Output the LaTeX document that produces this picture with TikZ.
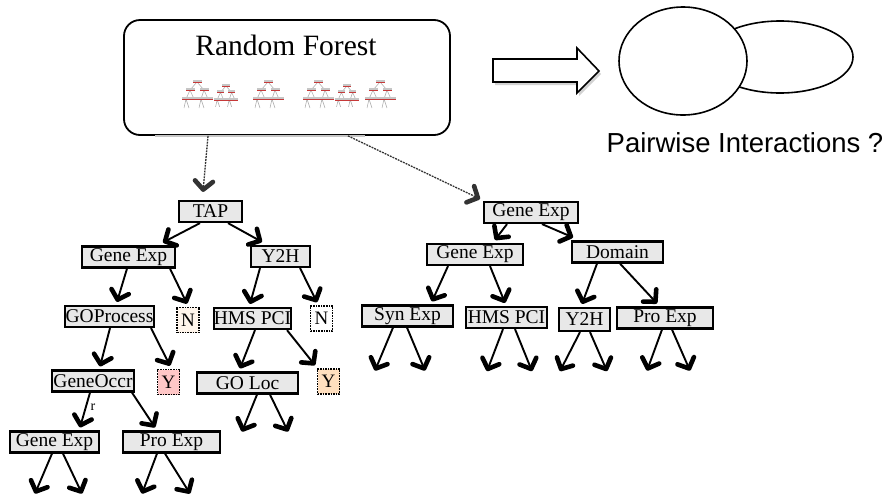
\documentclass[tikz,border=0pt]{standalone}
\usepackage{fontspec}
\setmainfont{Liberation Serif}
\newfontfamily\pairfont{Liberation Sans}
\usetikzlibrary{arrows.meta,shapes.geometric}
\tikzset{
  tbox/.style={draw,line width=2.2pt,fill=gray!18,minimum width=#1,minimum height=21pt,inner sep=0pt,font=\fontsize{19.5}{21}\selectfont},
  leaf/.style={draw,densely dotted,line width=1.6pt,fill=#1,minimum width=22pt,minimum height=25pt,inner sep=0pt,font=\fontsize{19}{21}\selectfont},
  arr/.style={-{Straight Barb[length=8.5pt,width=18pt,line width'=4.6pt,round]},line width=1.9pt},
  darr/.style={arr,densely dotted,line width=1.3pt,black!80},
  mtree/.pic={
    \draw[gray!70,line width=.5pt] (0,0)--(-7,8) (0,0)--(7,8) (-7,8)--(-11,17) (-7,8)--(-3,17) (7,8)--(4,17) (7,8)--(11,17) (-11,17)--(-13,26) (-11,17)--(-8,26) (4,17)--(2,26) (4,17)--(7,26);
    \foreach \p in {(0,0),(-7,8),(7,8),(-11,17),(-3,17),(4,17),(11,17)}{\fill[gray!45] \p ++(-4.5,-2.5) rectangle ++(9,2.5); \fill[red!55!gray] \p ++(-4.5,0) rectangle ++(9,1);}
  },
}

\begin{document}
\begin{tikzpicture}[x=1pt,y=-1pt]
 \useasboundingbox (0,0) rectangle (891,496);
 % forest box
 \node[draw,rounded corners=16pt,line width=1.8pt,minimum width=326pt,minimum height=115pt] (rf) at (287,77.5) {};
 \draw[gray!45,line width=2pt] ([xshift=-132pt]rf.south) -- ([xshift=78pt]rf.south);
 \node[font=\fontsize{29.5}{32}\selectfont] (rft) at (286,45) {Random Forest};
 \foreach \x/\y/\s in {197/82/1,226/86/.8,268/82/1,318/82/1,347/86/.8,380/82/1}{\pic[scale=\s] at (\x,\y) {mtree};}
 % block arrow and the two blobs
 \fill[gray!35] (495,62) -- (579,62) -- (579,51) -- (601,74) -- (579,96) -- (579,85) -- (495,85) -- cycle;
 \draw[line width=1.6pt,fill=white] (493,59) -- (577,59) -- (577,48) -- (599,71) -- (577,93) -- (577,82) -- (493,82) -- cycle;
 \node[draw,ellipse,line width=1.6pt,minimum width=146pt,minimum height=72pt] (pe) at (780,57) {};
 \node[draw,ellipse,line width=1.6pt,fill=white,minimum width=128pt,minimum height=108pt] (pc) at (683,61) {};
 \node[font=\pairfont\fontsize{27.5}{30}\selectfont,anchor=base] (pq) at (745,152) {Pairwise Interactions ?};
 % left tree
 \node[tbox=63pt] (tap) at (210.5,211.5) {TAP};
 \node[tbox=93pt] (gl) at (128.5,257) {Gene Exp};
 \node[tbox=59pt] (yl) at (280.5,256.5) {Y2H};
 \node[tbox=89pt] (gop) at (109.5,316.5) {GOProcess};
 \node[leaf=orange!8] (nl) at (188,320) {N};
 \node[tbox=77pt] (hl) at (252.5,318.5) {HMS PCI};
 \node[leaf=white] (nr) at (321.5,318.5) {N};
 \node[tbox=82pt] (goc) at (93,381) {GeneOccr};
 \node[leaf=red!22] (yp) at (168.5,382) {Y};
 \node[tbox=101pt] (gol) at (247.5,383) {GO Loc};
 \node[leaf=orange!25] (yo) at (328.5,381.5) {Y};
 \node[tbox=89pt] (gb) at (54.5,442) {Gene Exp};
 \node[tbox=97pt] (pb) at (171.5,442) {Pro Exp};
 \node[font=\fontsize{14}{15}\selectfont] (rr) at (93,407) {r};
 % right tree
 \node[tbox=94pt] (gt) at (531,212.5) {Gene Exp};
 \node[tbox=96pt] (g2) at (475,254.5) {Gene Exp};
 \node[tbox=91pt] (dom) at (617.5,252) {Domain};
 \node[tbox=91pt] (syn) at (407.5,316) {Syn Exp};
 \node[tbox=81pt] (hr) at (506.5,317.5) {HMS PCI};
 \node[tbox=51pt,minimum height=23pt] (yr) at (584.5,319.5) {Y2H};
 \node[tbox=96pt] (pr) at (665,318) {Pro Exp};
 % connectors
 \draw[darr] ([xshift=-79pt]rf.south) -- ([xshift=-7.5pt,yshift=8pt]tap.north);
 \draw[darr] ([xshift=61pt]rf.south) -- ([xshift=-51pt,yshift=2pt]gt.north);
 \foreach \p/\c/\s/\e in {tap/gl/-10.5/34.5,tap/yl/17.5/-18.5,gl/gop/-1.5/7.5,gl/nl/41.5/-1,yl/hl/-20.5/-2.5,yl/nr/19.5/-4.5,
   gop/goc/0.5/7,gop/yp/41.5/1.5,hl/gol/2.5/-7.5,hl/yo/34.5/-13.5,goc/gb/-3/25.5,goc/pb/39/-16.5,
   gt/g2/-24/20,gt/dom/11/-44.5,g2/syn/-27/24.5,g2/hr/15/-1.5,dom/yr/-20.5/-2.5,dom/pr/2.5/-8}
   {\draw[arr] ([xshift=\s pt]\p.south) -- ([xshift=\e pt,yshift=3pt]\c.north);}
 % dangling branches
 \foreach \n/\a/\b/\c/\d/\h in {syn/-14.5/-32.5/-.5/17.5/43,hr/-3.5/-19.5/8.5/25.5/42,yr/-4.5/-24.5/5.5/22.5/39,pr/-3/-18/7/25/41,
   gol/9.5/-5.5/22.5/40.5/37,gb/-2.5/-19.5/8.5/27.5/40,pb/-14.5/-29.5/-6.5/18.5/40}
   {\draw[arr] ([xshift=\a pt]\n.south) -- ([xshift=\b pt,yshift=-\h pt]\n.south);
    \draw[arr] ([xshift=\c pt]\n.south) -- ([xshift=\d pt,yshift=-\h pt]\n.south);}
\end{tikzpicture}
\end{document}
